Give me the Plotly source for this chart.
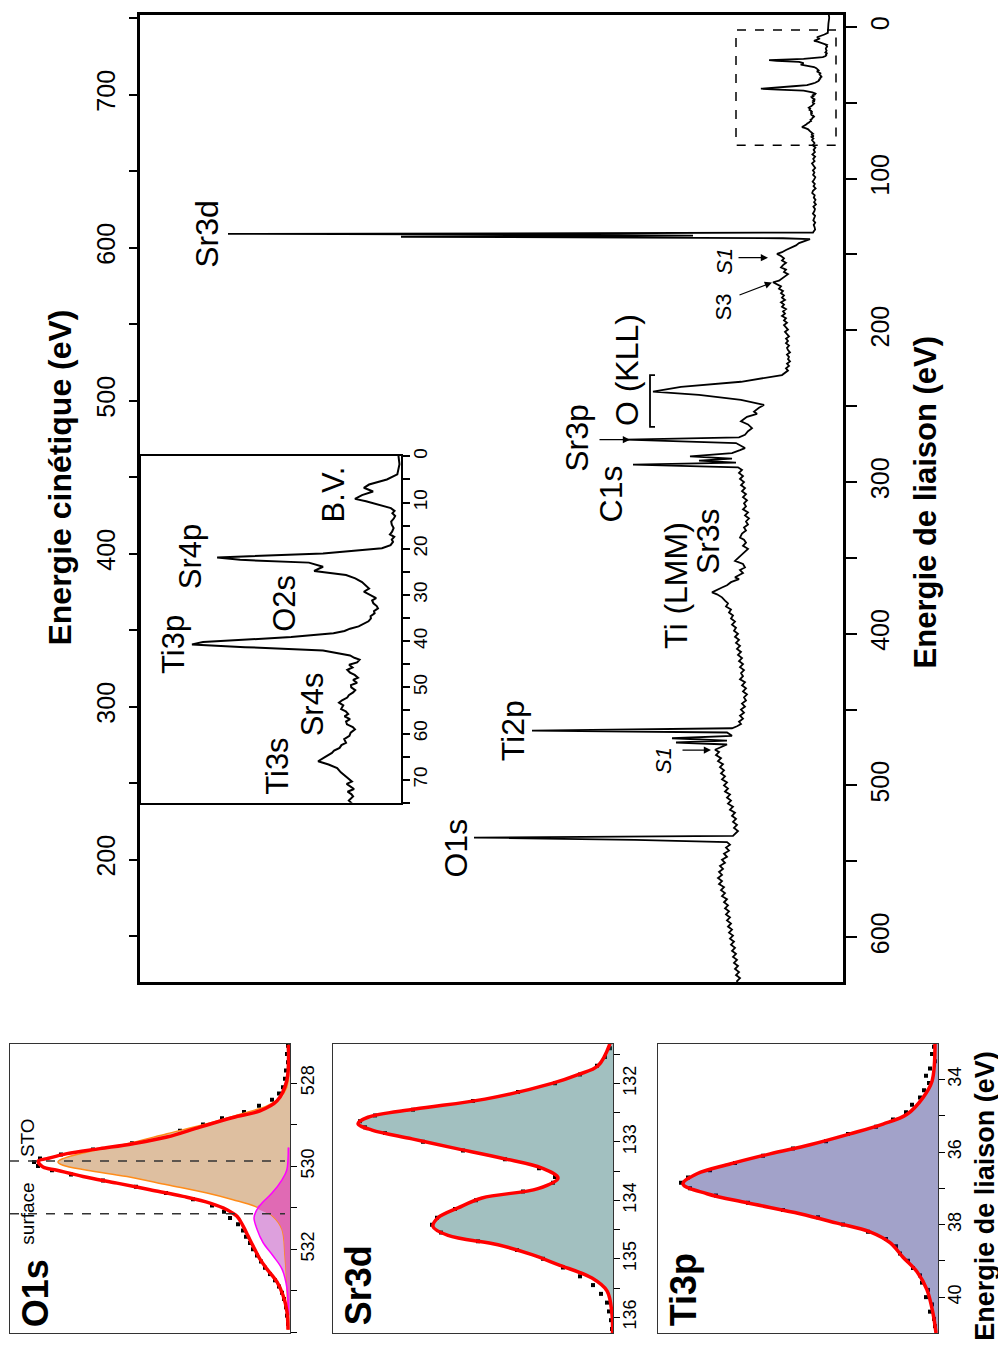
import plotly.graph_objects as go

# ------------------------------------------------------------------
# DATA
# ------------------------------------------------------------------
# Survey spectrum: binding energy (eV) and intensity (arb. units)
be_survey = (
    [-10, -6, -2, 0, 1.7, 3.9, 5.0, 6.1, 6.8, 7.6, 8.4, 9.2, 9.7, 10.5]
    + [11.2, 11.8, 12.3, 12.9, 13.4, 14.1, 14.8, 15.5, 16.3, 16.9, 17.4, 18.0, 18.5, 19.2, 19.9]
    + [21.0, 21.9, 22.4, 23.0, 23.9, 24.8]
    + [25.7, 26.4, 27.2, 27.9, 28.6, 29.3, 30.0, 30.7, 31.2, 31.8, 32.4, 32.9, 33.5, 34.0, 34.6,
       35.1, 35.7, 36.2, 36.8, 37.3, 37.8, 38.3]
    + [39.1, 40.2, 40.7, 41.3, 42.0]
    + [43.1, 43.6, 44.0, 44.6, 45.1, 45.7, 46.2, 46.8, 47.3, 47.9, 48.4, 49.0, 49.5, 50.0, 50.6,
       51.1, 51.7, 52.2, 52.8, 53.3, 53.9, 54.7, 55.2, 55.8, 56.3, 56.9, 57.4, 58.0, 58.6, 59.1,
       59.8, 60.5, 61.2, 62.0, 62.5, 63.1, 63.7, 64.2, 65.1, 66.0, 66.7, 67.5, 68.4, 69.3, 69.8,
       70.4, 70.9, 71.5, 72.0, 72.6, 73.1, 73.6, 74.5, 75.4]
    + [76.5, 78, 79.5, 81, 82.5, 84, 85.5, 87, 88.5, 90, 91.5, 93, 94.5, 96, 97.5, 99, 100.5,
       102, 103.5, 105, 106.5, 108, 109.5, 111, 112.5, 114, 115.5, 117, 118.5, 120, 121.5, 123,
       124.5, 126, 127.5, 129, 130.5, 132, 133.5, 135.0]
    + [135.5, 136.0, 136.4, 136.9, 137.6, 138.3, 138.8, 139.3]
    + [139.9, 141, 142.5, 144, 145.5, 147, 148.5, 149.6, 151, 152.5, 154, 155.5, 157, 158.5, 160,
       161.5, 163, 164.5, 166, 167.3, 168.3, 169.5, 171, 172.6, 174, 175.5, 177, 178.5, 180,
       181.5, 183, 184.5, 186, 187.5, 189, 190.5, 192, 193.5, 195, 196.5, 198, 199.5, 201, 202.5,
       204, 205.5, 207, 208.5, 210, 211.5, 213, 214.5, 216, 217.5, 219, 220.5, 222, 223.5, 225,
       226.5, 228, 229.5]
    + [233.9, 237.2, 240.4, 242.6, 245.9, 249.2, 251, 253.6, 255, 257, 258.5, 260, 262, 264.5,
       266.5, 268.9, 270.5, 272.1, 274.3, 277.6, 279, 280.9, 283.1, 284.6, 285.9, 287.2, 288.5]
    + [290.3, 292, 294, 296, 298, 300, 302, 304, 306, 308, 310, 312, 314, 316, 318, 320, 322,
       324, 326, 328, 330, 332, 334, 336.6, 338, 340, 342, 344, 346, 348, 350, 352, 354, 356.3,
       358, 360, 362.8, 364, 366, 368, 369.5, 371, 372.7, 374, 376, 378.2, 380, 382, 384, 386,
       388, 390, 392, 394, 396, 398, 400, 402, 404, 406, 408, 410, 412, 414, 416, 418, 420, 422,
       424, 426, 428, 430, 432, 434, 436, 438, 440, 442, 444, 446, 448, 450, 452, 454, 456, 458,
       459.5, 461]
    + [462.3, 463.8, 465.1, 467.3, 468.9, 470.4, 471.7]
    + [473, 475, 476.5, 478, 480, 482, 484, 486, 488, 490, 492, 494, 496, 498, 500, 502, 504,
       506, 508, 510, 512, 514, 516, 518, 520, 522, 524, 526, 528, 530, 531.5, 533.2]
    + [534.4, 535.9]
    + [537.3, 539, 541, 543, 545, 547, 549, 551, 553, 555, 557, 559, 561, 563, 565, 567, 569,
       571, 573, 575, 577, 579, 581, 583, 585, 587, 589, 591, 593, 595, 597, 599, 601, 603, 605,
       607, 609, 611, 613, 615, 617, 619, 621, 623, 625, 627, 629, 630]
)
int_survey = (
    [14.5, 13.8, 14.6, 14.8, 14.5, 15.2, 18.6, 24.4, 26.1, 23.1, 26.7, 29.0, 25.4, 20.8]
    + [17.3, 16.1, 16.8, 15.9, 16.3, 17.2, 17.0, 16.4, 16.9, 17.6, 16.2, 17.0, 16.6, 17.4, 20.2]
    + [39.4, 73.9, 66.4, 44.0, 39.4, 42.3]
    + [31.9, 28.9, 26.7, 25.5, 24.4, 26.1, 24.2, 22.1, 23.4, 23.0, 21.9, 21.5, 22.8, 22.6, 23.9,
       23.8, 24.6, 25.9, 27.8, 30.6, 32.4, 36.0]
    + [49.8, 78.5, 82.1, 64.8, 39.4]
    + [30.6, 29.2, 27.5, 28.3, 30.9, 29.8, 31.5, 30.6, 29.1, 28.0, 29.6, 28.3, 30.3, 30.2, 28.9,
       29.6, 31.0, 31.5, 33.2, 34.2, 32.8, 33.5, 32.0, 31.2, 32.4, 30.6, 31.9, 31.6, 29.7, 29.0,
       30.4, 30.8, 32.5, 31.9, 33.4, 34.0, 35.8, 36.5, 38.8, 41.0, 37.6, 34.8, 33.6, 31.9, 30.8,
       30.0, 31.7, 30.6, 29.3, 31.4, 30.2, 29.6, 31.0, 29.6]
    + [28.5, 30.2, 27.6, 29.4, 28.1, 30.6, 27.9, 29.8, 28.4, 31.0, 29.1, 27.8, 30.1, 28.6, 29.9,
       27.7, 28.8, 30.4, 28.2, 29.5, 27.4, 30.0, 30.8, 28.3, 29.2, 27.5, 28.9, 27.1, 29.6, 28.0,
       28.7, 30.1, 27.9, 28.6, 29.7, 27.8, 29.3, 28.4, 27.9, 29.5]
    + [30, 250, 615, 300, 150, 442, 200, 60]
    + [33, 38, 44, 47, 53, 57, 61, 66, 62, 59, 61, 57, 60, 62, 57, 59, 55, 58, 61, 64, 70, 66,
       62, 64, 60, 62, 59, 61, 58, 62, 59, 61, 57, 60, 58, 61, 57, 59, 56, 59, 57, 55, 58, 56,
       54, 57, 55, 57, 54, 56, 55, 53, 56, 54, 55, 53, 56, 54, 57, 55, 58, 61]
    + [102, 162, 190, 144, 102, 79, 84, 89, 86, 96, 99, 102, 95, 91, 95, 98, 104, 217, 107, 98,
       103, 111, 153, 111, 144, 107, 210]
    + [105, 101, 104, 100, 103, 99, 102, 98, 101, 97, 100, 96, 99, 97, 100, 95, 98, 94, 97, 95,
       99, 97, 101, 103, 99, 97, 100, 95, 98, 101, 104, 108, 100, 98, 103, 100, 108, 104, 112,
       116, 121, 125, 131, 126, 121, 118, 115, 117, 112, 114, 110, 112, 108, 111, 107, 109, 105,
       108, 104, 107, 103, 106, 102, 105, 101, 104, 100, 103, 99, 102, 100, 103, 98, 101, 97,
       100, 96, 99, 97, 101, 98, 102, 99, 103, 100, 104, 102, 106]
    + [111, 311, 116, 111, 171, 116, 167]
    + [116, 122, 128, 124, 127, 122, 125, 120, 123, 119, 122, 118, 121, 116, 119, 115, 118, 113,
       116, 112, 115, 110, 113, 108, 111, 107, 110, 106, 109, 105, 107, 110]
    + [369, 208]
    + [116, 113, 117, 114, 119, 116, 121, 118, 123, 120, 124, 121, 125, 121, 124, 119, 122, 118,
       121, 116, 119, 115, 118, 114, 117, 113, 116, 112, 115, 111, 114, 110, 113, 109, 112, 108,
       111, 107, 110, 106, 109, 105, 108, 104, 107, 103, 106, 105]
)

# Peak labels of the survey
survey_labels = ["Sr3d", "O (KLL)", "Sr3p", "C1s", "Sr3s", "Ti (LMM)", "Ti2p", "O1s"]
survey_label_be = [136.4, 226.2, 270.8, 308.2, 339, 368.5, 464.3, 541.6]
survey_label_int = [636, 216, 266, 232, 135, 167, 330, 387]

sat_labels = ["<i>S1</i>", "S3", "<i>S1</i>"]
sat_label_be = [154.8, 184.9, 483.9]
sat_label_int = [118, 120, 180]
sat_arrow_be = [152.1, 168.5, 476.7]
sat_arrow_int = [75, 71, 132]

# Inset labels
inset_labels = ["B.V.", "Sr4p", "O2s", "Ti3p", "Sr4s", "Ti3s"]
inset_label_be = [8.2, 21.8, 31.7, 40.8, 53.7, 67]
inset_label_int = [36.1, 82.7, 51.8, 87.9, 42.7, 54.1]

# O1s core level
o1s_be_fit = [527.08, 527.95, 528.43, 528.67, 528.83, 529.06, 529.30, 529.46, 529.58, 529.70,
              529.82, 529.88, 530.02, 530.10, 530.25, 530.41, 530.57, 530.73, 530.89, 531.05,
              531.21, 531.44, 531.68, 531.92, 532.24, 532.48, 532.79, 533.11, 533.51, 533.94]
o1s_fit = [1.7, 3.3, 13, 30, 57, 90, 123, 157, 190, 223,
           243, 252, 247, 233, 207, 173, 140, 107, 80, 63,
           53, 47, 42, 37, 30, 23, 13, 7, 3, 2]
o1s_be_sto = [527.08, 528.11, 528.35, 528.55, 528.75, 528.98, 529.22, 529.46, 529.66, 529.82,
              529.90, 529.98, 530.10, 530.25, 530.45, 530.65, 530.81, 530.97, 531.21, 531.52,
              532.16, 532.95, 533.94]
o1s_sto = [1.7, 3.3, 10, 23, 50, 83, 123, 163, 203, 227,
           232, 227, 203, 163, 123, 83, 57, 35, 17, 8,
           5, 3, 2]
o1s_be_surf = [529.55, 530.10, 530.33, 530.65, 530.89, 531.09, 531.25, 531.52, 531.84, 532.16,
               532.48, 532.95, 533.59]
o1s_surf = [1.7, 3.3, 8, 18, 28, 34, 36, 33, 27, 17, 8, 3, 1.7]
o1s_be_ovl = [529.55, 530.10, 530.33, 530.65, 530.89, 531.0, 531.21, 531.52, 532.16, 532.95, 533.59]
o1s_ovl = [1.7, 3.3, 8, 18, 28, 33, 17, 8, 5, 3, 1.7]
o1s_be_pts = [527.1, 527.3, 527.5, 527.7, 527.9, 528.1, 528.25, 528.4, 528.55, 528.7,
              528.85, 529.0, 529.15, 529.3, 529.45, 529.6, 529.72, 529.82, 529.9, 530.0,
              530.1, 530.2, 530.35, 530.5, 530.65, 530.8, 530.95, 531.1, 531.25, 531.4,
              531.55, 531.7, 531.85, 532.0, 532.15, 532.3, 532.45, 532.6, 532.75, 532.9,
              533.05, 533.2, 533.4, 533.6, 533.8]
o1s_pts = [2, 3, 2, 4, 5, 7, 11, 18, 31, 46,
           68, 87, 110, 128, 158, 197, 229, 250, 256, 252,
           238, 219, 187, 154, 124, 97, 78, 66, 60, 52,
           47, 44, 40, 37, 33, 29, 25, 20, 15, 11,
           8, 6, 4, 3, 2]
o1s_marks_be = [529.88, 531.15]

# Sr3d core level
sr_be_fit = [131.32, 131.7, 131.85, 132.0, 132.27, 132.44, 132.58, 132.69, 132.8, 132.95,
             133.1, 133.28, 133.45, 133.62, 133.8, 133.96, 134.13, 134.3, 134.45, 134.6,
             134.76, 134.93, 135.1, 135.33, 135.55, 135.95, 136.27]
sr_fit = [3, 15, 35, 61, 128, 198, 245, 255, 241, 201,
          161, 111, 71, 55, 75, 131, 155, 175, 180, 165,
          115, 81, 55, 21, 6, 1, 0.5]
sr_be_pts = [131.4, 131.55, 131.7, 131.85, 132.0, 132.15, 132.3, 132.45, 132.55, 132.65,
             132.75, 132.85, 133.0, 133.15, 133.3, 133.45, 133.6, 133.7, 133.85, 134.0,
             134.15, 134.3, 134.42, 134.55, 134.7, 134.85, 135.0, 135.15, 135.3, 135.45,
             135.6, 135.75, 135.9, 136.05, 136.2]
sr_pts = [3, 8, 16, 33, 58, 95, 140, 200, 238, 253,
          248, 228, 190, 150, 108, 74, 58, 60, 90, 137,
          158, 176, 181, 172, 135, 96, 70, 50, 33, 20,
          12, 6, 4, 2, 1]

# Ti3p core level
ti_be_fit = [33.01, 34.05, 34.5, 34.96, 35.23, 35.5, 35.8, 36.05, 36.33, 36.6,
             36.88, 37.15, 37.4, 37.7, 37.96, 38.2, 38.5, 38.9, 39.3, 39.8,
             40.45, 40.99]
ti_fit = [3, 6, 15, 31, 55, 88, 128, 168, 208, 241,
          255, 231, 191, 138, 101, 68, 48, 35, 21, 11,
          5, 2]
ti_be_pts = [33.1, 33.3, 33.5, 33.7, 33.9, 34.1, 34.3, 34.5, 34.7, 34.9,
             35.1, 35.3, 35.5, 35.7, 35.9, 36.1, 36.3, 36.5, 36.7, 36.85,
             37.0, 37.2, 37.4, 37.6, 37.8, 38.0, 38.2, 38.4, 38.6, 38.8,
             39.0, 39.2, 39.4, 39.6, 39.8, 40.0, 40.2, 40.4, 40.6, 40.8]
ti_pts = [4, 6, 3, 8, 12, 9, 14, 18, 26, 32,
          45, 62, 90, 112, 145, 175, 203, 228, 250, 257,
          248, 222, 190, 155, 120, 95, 70, 52, 42, 38,
          30, 25, 18, 16, 10, 12, 6, 8, 4, 3]

# ------------------------------------------------------------------
# page: the html body has an 8 px margin on every side, so the figure is
# sized to make the whole document exactly 1006 x 1350
OFF = 8
W, H = 1006 - OFF, 1350 - 2 * OFF
FONT = "Arial, 'Liberation Sans', sans-serif"


def fx(p):
    return min(max((p - OFF) / W, 0), 1)


def fy(p):
    return min(max(1 - (p - OFF) / H, 0), 1)


fig = go.Figure()

# ---- main survey ----
fig.add_trace(go.Scatter(x=int_survey, y=be_survey, xaxis="x", yaxis="y", mode="lines",
                         line=dict(color="black", width=1.8), hoverinfo="skip"))
fig.add_trace(go.Scatter(x=[None], y=[None], xaxis="x", yaxis="y2", mode="markers",
                         hoverinfo="skip"))
# ---- inset ----
fig.add_trace(go.Scatter(x=int_survey, y=be_survey, xaxis="x2", yaxis="y3", mode="lines",
                         line=dict(color="black", width=2), hoverinfo="skip"))

# ---- O1s panel ----
fig.add_trace(go.Scatter(x=o1s_pts, y=o1s_be_pts, xaxis="x3", yaxis="y4", mode="markers",
                         marker=dict(symbol="square", size=4, color="black"), hoverinfo="skip"))
fig.add_trace(go.Scatter(x=o1s_surf, y=o1s_be_surf, xaxis="x3", yaxis="y4", mode="lines",
                         line=dict(width=0, shape="spline"), fill="tozerox",
                         fillcolor="#DDA0DD", hoverinfo="skip"))
fig.add_trace(go.Scatter(x=o1s_sto, y=o1s_be_sto, xaxis="x3", yaxis="y4", mode="lines",
                         line=dict(width=1.5, color="#FF8C1A", shape="spline"), fill="tozerox",
                         fillcolor="#DEBFA0", hoverinfo="skip"))
fig.add_trace(go.Scatter(x=o1s_ovl, y=o1s_be_ovl, xaxis="x3", yaxis="y4", mode="lines",
                         line=dict(width=0, shape="spline"), fill="tozerox",
                         fillcolor="#E06AB4", hoverinfo="skip"))
fig.add_trace(go.Scatter(x=o1s_surf, y=o1s_be_surf, xaxis="x3", yaxis="y4", mode="lines",
                         line=dict(width=1.5, color="#FF00FF", shape="spline"), hoverinfo="skip"))
fig.add_trace(go.Scatter(x=o1s_fit, y=o1s_be_fit, xaxis="x3", yaxis="y4", mode="lines",
                         line=dict(width=3.5, color="#FF0000", shape="spline"), hoverinfo="skip"))

# ---- Sr3d panel ----
fig.add_trace(go.Scatter(x=sr_pts, y=sr_be_pts, xaxis="x4", yaxis="y5", mode="markers",
                         marker=dict(symbol="square", size=4, color="black"), hoverinfo="skip"))
fig.add_trace(go.Scatter(x=sr_fit, y=sr_be_fit, xaxis="x4", yaxis="y5", mode="lines",
                         line=dict(width=3.5, color="#FF0000", shape="spline"), fill="tozerox",
                         fillcolor="rgba(40,110,110,0.43)", hoverinfo="skip"))

# ---- Ti3p panel ----
fig.add_trace(go.Scatter(x=ti_pts, y=ti_be_pts, xaxis="x5", yaxis="y6", mode="markers",
                         marker=dict(symbol="square", size=4, color="black"), hoverinfo="skip"))
fig.add_trace(go.Scatter(x=ti_fit, y=ti_be_fit, xaxis="x5", yaxis="y6", mode="lines",
                         line=dict(width=3.5, color="#FF0000", shape="spline"), fill="tozerox",
                         fillcolor="rgba(40,40,130,0.43)", hoverinfo="skip"))


# ------------------------------------------------------------------
# Axes
# ------------------------------------------------------------------
def hidden_x(domain, rng, anchor, lw, lc):
    return dict(domain=domain, range=rng, anchor=anchor, showline=True, mirror=True,
                linewidth=lw, linecolor=lc, showticklabels=False, ticks="",
                showgrid=False, zeroline=False, fixedrange=True)


def tick_y(domain, rng, anchor, side, dtick, minor, size, tlen, lw, lc, standoff, showline=True):
    return dict(domain=domain, range=rng, anchor=anchor, side=side,
                showline=showline, mirror=showline, linewidth=lw, linecolor=lc,
                ticks="outside", ticklen=tlen, tickwidth=max(lw - 0.5, 1), tickcolor="black",
                tick0=0, dtick=dtick, tickangle=-90,
                tickfont=dict(size=size, family=FONT, color="black"),
                minor=dict(tick0=0, dtick=minor, ticks="outside", ticklen=tlen,
                           tickwidth=max(lw - 0.5, 1), tickcolor="black", showgrid=False),
                showgrid=False, zeroline=False, fixedrange=True,
                ticklabelstandoff=standoff)


# main plot: top edge of the figure is at page y = 8 px
main_xd = [fx(140), fx(843)]
main_yd = [fy(980), 1.0]
small_yd = [fy(1333), fy(1042)]

layout = dict(
    width=W, height=H, margin=dict(l=0, r=0, t=0, b=0),
    paper_bgcolor="white", plot_bgcolor="white", showlegend=False,
    font=dict(family=FONT, color="black"),
    xaxis=hidden_x(main_xd, [703, 0], "y", 2.5, "black"),
    yaxis=tick_y(main_yd, [629.5, -7.87], "x", "right", 100, 50, 25, 11, 2.5, "black", 2),
    yaxis2=dict(tick_y(main_yd, [120, 752], "x", "left", 100, 50, 25, 10, 2.5, "black", 4,
                       showline=False), overlaying="y"),
    xaxis2=hidden_x([fx(141), fx(401)], [98.7, 14], "y3", 2, "black"),
    yaxis3=tick_y([fy(800), fy(451)], [75.0, -0.15], "x2", "right", 10, 5, 19, 7, 2, "black", -6),
    xaxis3=hidden_x([fx(10), fx(290)], [280, 0], "y4", 1, "#333"),
    yaxis4=tick_y(small_yd, [534.02, 527.05], "x3", "right", 2, 1, 18, 6, 1, "#333", -5),
    xaxis4=hidden_x([fx(333), fx(613)], [280, 0], "y5", 1, "#333"),
    yaxis5=tick_y(small_yd, [136.27, 131.32], "x4", "right", 1, 0.5, 18, 6, 1, "#333", -6),
    xaxis5=hidden_x([fx(658), fx(938)], [280, 0], "y6", 1, "#333"),
    yaxis6=tick_y(small_yd, [40.99, 33.01], "x5", "right", 2, 1, 18, 6, 1, "#333", -6),
)
fig.update_layout(**layout)

# ------------------------------------------------------------------
# Shapes
# ------------------------------------------------------------------
fig.add_shape(type="rect", xref="x", yref="y", x0=7, x1=107, y0=2, y1=78,
              line=dict(color="black", width=1.5, dash="dash"))
fig.add_shape(type="path", xref="x", yref="y",
              path="M 188,229.5 L 193,229.5 L 193,263.6 L 188,263.6",
              line=dict(color="black", width=1.8))
for b in o1s_marks_be:
    fig.add_shape(type="line", xref="x3", yref="y4", x0=280, x1=5, y0=b, y1=b,
                  line=dict(color="#333", width=1.5, dash="dash"))

# ------------------------------------------------------------------
# Annotations
# ------------------------------------------------------------------
ann = []


def text(t, x, y, xref, yref, size, bold=False):
    if bold:
        t = "<b>" + t + "</b>"
    ann.append(dict(text=t, x=x, y=y, xref=xref, yref=yref, showarrow=False,
                    textangle=-90, xanchor="center", yanchor="middle",
                    font=dict(size=size, family=FONT, color="black")))


for t, b, i in zip(survey_labels, survey_label_be, survey_label_int):
    text(t, i, b, "x", "y", 32)
for t, b, i in zip(sat_labels, sat_label_be, sat_label_int):
    text(t, i, b, "x", "y", 22)
for b, i, dx, dy in zip(sat_arrow_be, sat_arrow_int, [-31, -34, -30], [0, 13, 0]):
    ann.append(dict(text="", x=i, y=b, xref="x", yref="y", showarrow=True,
                    ax=dx, ay=dy, arrowhead=2, arrowsize=1.2, arrowwidth=1.2,
                    arrowcolor="black"))
ann.append(dict(text="", x=213, y=272.1, xref="x", yref="y", showarrow=True,
                ax=-32, ay=0, arrowhead=2, arrowsize=1.2, arrowwidth=1.2, arrowcolor="black"))
for t, b, i in zip(inset_labels, inset_label_be, inset_label_int):
    text(t, i, b, "x2", "y3", 31)

# axis titles
text("Energie cinétique (eV)", fx(60), fy(473), "paper", "paper", 32, bold=True)
text("Energie de liaison (eV)", fx(925), fy(498), "paper", "paper", 31, bold=True)
text("Energie de liaison (eV)", fx(985), fy(1195), "paper", "paper", 27, bold=True)

# small panel labels
text("O1s", fx(35), fy(1293), "paper", "paper", 36, bold=True)
text("Sr3d", fx(358), fy(1285), "paper", "paper", 36, bold=True)
text("Ti3p", fx(683), fy(1290), "paper", "paper", 36, bold=True)
text("STO", fx(27), fy(1137), "paper", "paper", 19)
text("surface", fx(28), fy(1213), "paper", "paper", 19)

fig.update_layout(annotations=ann)

fig.write_html("out.html")
